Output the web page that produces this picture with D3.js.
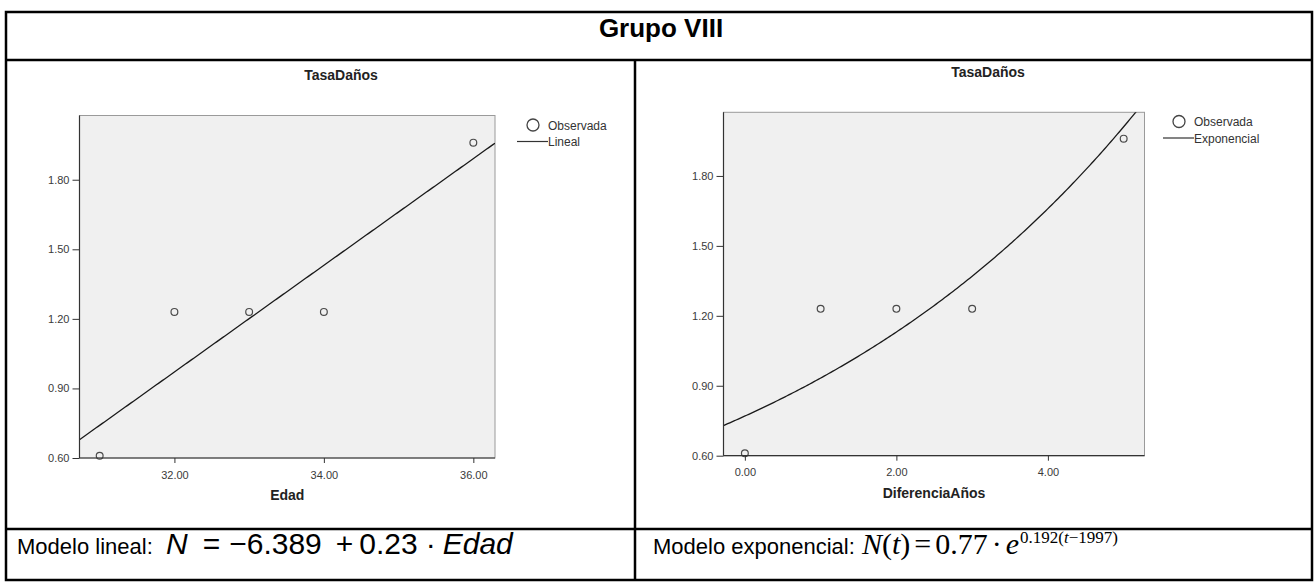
<!DOCTYPE html>
<html>
<head>
<meta charset="utf-8">
<script src="https://cdn.jsdelivr.net/npm/d3@7"></script>
<style>
  body { margin: 0; background: #fff; }
  svg { display: block; font-family: "Liberation Sans", Arial, sans-serif; }
  .tick text { fill: #3a3a3a; font-size: 11px; }
  .tick line { stroke: #333; }
</style>
</head>
<body>
<svg id="chart" width="1315" height="583"></svg>
<script>
// observed values (same five records in both panels)
const edad = [31, 32, 33, 34, 36];
const diferenciaAnos = [0, 1, 2, 3, 5];
const tasaDanos = [0.61, 1.23, 1.23, 1.23, 1.96];

const yTicks = [0.60, 0.90, 1.20, 1.50, 1.80];
const edadTicks = [32, 34, 36];
const difTicks = [0, 2, 4];

// fitted models, as printed under each chart
const linealCoef = { a: -6.389, b: 0.23 };
const expCoef = { a: 0.77, b: 0.192 };

const svg = d3.select("#chart");

// ---- table frame ----
const frame = svg.append("g").attr("stroke", "#000").attr("stroke-width", 2.5).attr("fill", "none");
frame.append("rect").attr("x", 6).attr("y", 12).attr("width", 1306).attr("height", 568);
frame.append("line").attr("x1", 6).attr("x2", 1312).attr("y1", 60).attr("y2", 60);
frame.append("line").attr("x1", 6).attr("x2", 1312).attr("y1", 529).attr("y2", 529);
frame.append("line").attr("x1", 635).attr("x2", 635).attr("y1", 60).attr("y2", 580);

svg.append("text")
  .attr("x", 661).attr("y", 36.5)
  .attr("text-anchor", "middle")
  .style("font-size", "26px").style("font-weight", "bold")
  .text("Grupo VIII");

// ---- one scatter panel ----
function drawPanel(o) {
  const g = svg.append("g");
  const x = d3.scaleLinear().domain(o.xDomain).range([o.left, o.right]);
  const y = d3.scaleLinear().domain(o.yDomain).range([o.bottom, o.top]);

  g.append("rect")
    .attr("x", o.left).attr("y", o.top)
    .attr("width", o.right - o.left).attr("height", o.bottom - o.top)
    .attr("fill", "#f0f0f0").attr("stroke", "#9a9a9a").attr("stroke-width", 1);

  const clipId = "clip" + o.id;
  g.append("clipPath").attr("id", clipId)
    .append("rect")
    .attr("x", o.left).attr("y", o.top)
    .attr("width", o.right - o.left).attr("height", o.bottom - o.top);

  // fitted curve
  const xs = d3.range(0, 201).map(i => o.xDomain[0] + (o.xDomain[1] - o.xDomain[0]) * i / 200);
  const line = d3.line().x(d => x(d)).y(d => y(o.fit(d)));
  g.append("path")
    .datum(xs)
    .attr("clip-path", "url(#" + clipId + ")")
    .attr("d", line)
    .attr("fill", "none").attr("stroke", "#1a1a1a").attr("stroke-width", 1.3);

  // observed points
  g.selectAll("circle.obs")
    .data(o.xVals.map((v, i) => [v, tasaDanos[i]]))
    .enter().append("circle")
    .attr("class", "obs")
    .attr("cx", d => x(d[0])).attr("cy", d => y(d[1]))
    .attr("r", 3.4)
    .attr("fill", "none").attr("stroke", "#4a4a4a").attr("stroke-width", 1.2);

  // axes
  const yAxis = g.append("g")
    .attr("transform", "translate(" + o.left + ",0)")
    .call(d3.axisLeft(y).tickValues(yTicks).tickFormat(d3.format(".2f")).tickSize(7).tickSizeOuter(0).tickPadding(3));
  yAxis.select(".domain").remove();
  const xAxis = g.append("g")
    .attr("transform", "translate(0," + o.bottom + ")")
    .call(d3.axisBottom(x).tickValues(o.xTicks).tickFormat(d3.format(".2f")).tickSize(5).tickSizeOuter(0).tickPadding(8));
  xAxis.select(".domain").remove();

  g.append("line").attr("x1", o.left).attr("x2", o.left).attr("y1", o.top).attr("y2", o.bottom)
    .attr("stroke", "#333").attr("stroke-width", 1.2);
  g.append("line").attr("x1", o.left).attr("x2", o.right).attr("y1", o.bottom).attr("y2", o.bottom)
    .attr("stroke", "#333").attr("stroke-width", 1.2);

  // titles
  g.append("text")
    .attr("x", o.titleX).attr("y", o.titleY)
    .attr("text-anchor", "middle")
    .style("font-size", "14px").style("font-weight", "bold").attr("fill", "#222")
    .text("TasaDaños");
  g.append("text")
    .attr("x", (o.left + o.right) / 2).attr("y", o.bottom + 42)
    .attr("text-anchor", "middle")
    .style("font-size", "14px").style("font-weight", "bold").attr("fill", "#222")
    .text(o.xLabel);

  // legend
  const lg = g.append("g").attr("transform", "translate(" + o.legendX + "," + o.legendY + ")");
  lg.append("circle").attr("cx", 0).attr("cy", 0).attr("r", 6)
    .attr("fill", "none").attr("stroke", "#444").attr("stroke-width", 1.3);
  lg.append("text").attr("x", 15).attr("y", 4.5)
    .style("font-size", "12px").attr("fill", "#333").text("Observada");
  lg.append("line").attr("x1", -16).attr("x2", 15).attr("y1", 16.5).attr("y2", 16.5)
    .attr("stroke", "#333").attr("stroke-width", 1.2);
  lg.append("text").attr("x", 15).attr("y", 21)
    .style("font-size", "12px").attr("fill", "#333").text(o.legendLabel);
}

drawPanel({
  id: "L", left: 79.5, right: 495, top: 115.5, bottom: 458,
  xDomain: [30.73, 36.29], yDomain: [0.60, 2.077],
  xVals: edad, xTicks: edadTicks,
  fit: t => linealCoef.a + linealCoef.b * t,
  titleX: 341, titleY: 80, xLabel: "Edad",
  legendX: 533, legendY: 125, legendLabel: "Lineal"
});

drawPanel({
  id: "R", left: 723.5, right: 1144.5, top: 112.3, bottom: 455.7,
  xDomain: [-0.282, 5.275], yDomain: [0.60, 2.073],
  xVals: diferenciaAnos, xTicks: difTicks,
  fit: t => expCoef.a * Math.exp(expCoef.b * t),
  titleX: 988, titleY: 77, xLabel: "DiferenciaAños",
  legendX: 1179, legendY: 121.5, legendLabel: "Exponencial"
});

// ---- model formulas ----
svg.append("text").attr("x", 17).attr("y", 554)
  .style("font-size", "22px").text("Modelo lineal:");

const f1 = svg.append("text").attr("x", 166).attr("y", 554).style("font-size", "30px");
f1.append("tspan").style("font-style", "italic").text("N");
f1.append("tspan").attr("dx", 15).text("=");
f1.append("tspan").attr("dx", 9).text("\u22126.389");
f1.append("tspan").attr("dx", 14).text("+");
f1.append("tspan").attr("dx", 6).text("0.23");
f1.append("tspan").attr("dx", 8).text("\u00b7");
f1.append("tspan").style("font-style", "italic").attr("dx", 7).text("Edad");

svg.append("text").attr("x", 653).attr("y", 554)
  .style("font-size", "22px").text("Modelo exponencial:");

const serif = "'Liberation Serif', 'Times New Roman', serif";
const f2 = svg.append("text").attr("x", 862).attr("y", 554)
  .style("font-family", serif).style("font-size", "30px");
f2.append("tspan").style("font-style", "italic").text("N");
f2.append("tspan").text("(");
f2.append("tspan").style("font-style", "italic").text("t");
f2.append("tspan").text(")");
f2.append("tspan").attr("dx", 4).text("=");
f2.append("tspan").attr("dx", 4).text("0.77");
f2.append("tspan").attr("dx", 4).text("\u00b7");
f2.append("tspan").style("font-style", "italic").attr("dx", 4).text("e");
f2.append("tspan").style("font-size", "17px").attr("dy", -11).attr("dx", 1).text("0.192(");
f2.append("tspan").style("font-size", "17px").style("font-style", "italic").text("t");
f2.append("tspan").style("font-size", "17px").text("\u22121997)");
</script>
</body>
</html>
